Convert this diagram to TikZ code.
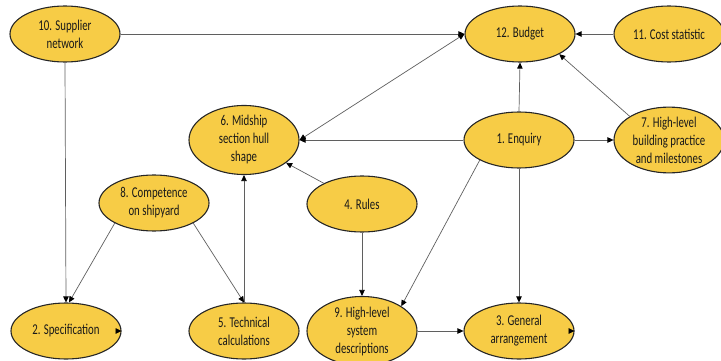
\documentclass[tikz,border=0pt]{standalone}
\usepackage{fontspec}
\setmainfont[FakeStretch=0.72]{Carlito}
\usetikzlibrary{shapes.geometric,arrows.meta}
\definecolor{topicfill}{RGB}{247,204,70}
\definecolor{linkgray}{RGB}{95,95,95}
\tikzstyle{topic}=[ellipse,draw=black!85,line width=1.1pt,fill=topicfill,
  minimum width=110pt,minimum height=56pt,inner sep=0pt,align=center,
  text=black!90,font=\fontsize{15}{18}\selectfont]
\tikzstyle{link}=[draw=linkgray,line width=0.7pt,
  -{Triangle[length=6pt,width=5.5pt,color=black]}]
\tikzstyle{twolink}=[link,{Triangle[length=6pt,width=5.5pt,color=black]}-{Triangle[length=6pt,width=5.5pt,color=black]}]

\begin{document}
\begin{tikzpicture}[x=1pt,y=-1pt]
  \useasboundingbox (0,0) rectangle (721,361);
  % top row
  \node[topic] (n10) at (65,34)  {10. Supplier\\network};
  \node[topic] (n12) at (520,34) {12. Budget};
  \node[topic] (n11) at (669,34) {11. Cost statistic};
  % second row
  \node[topic] (n6) at (244,140) {6. Midship\\section hull\\shape};
  \node[topic] (n1) at (519,140) {1. Enquiry};
  \node[topic] (n7) at (669,140) {7. High-level\\building practice\\and milestones};
  % middle
  \node[topic] (n8) at (154,203) {8. Competence\\on shipyard};
  \node[topic] (n4) at (362,204) {4. Rules};
  % bottom row
  \node[topic] (n2) at (66,331)  {2. Specification};
  \node[topic] (n5) at (244,331) {5. Technical\\calculations};
  \node[topic] (n9) at (362,331) {9. High-level\\system\\descriptions};
  \node[topic] (n3) at (519,331) {3. General\\arrangement};

  % connectors
  \draw[link] (n10.east) -- (n12.west);
  \draw[link] (n11.west) -- (n12.east);
  \draw[link] (n1.north) -- (n12.south);
  \draw[link] (n7.north west) -- (n12.south east);
  \draw[twolink] (n6.east) -- (n12.west);
  \draw[link] (n1.west) -- (n6.east);
  \draw[link] (n1.east) -- (n7.west);
  \draw[link] (n4) -- (n6);
  \draw[link] (n5.north) -- (n6.south);
  \draw[link] (n10.south) -- (n2.north);
  \draw[link] (n8.south west) -- ([xshift=3pt]n2.north);
  \draw[link] (n8.south east) -- (n5.north);
  \draw[link] (n4.south) -- (n9.north);
  \draw[link] (n1.south west) -- (n9.north east);
  \draw[link] (n1.south) -- (n3.north);
  \draw[link] (n9.east) -- (n3.west);
  % small marks on the right rims
  \draw[link] ([xshift=-3pt]n2.east) -- (n2.east);
  \draw[link] ([xshift=-3pt]n3.east) -- (n3.east);
\end{tikzpicture}
\end{document}
